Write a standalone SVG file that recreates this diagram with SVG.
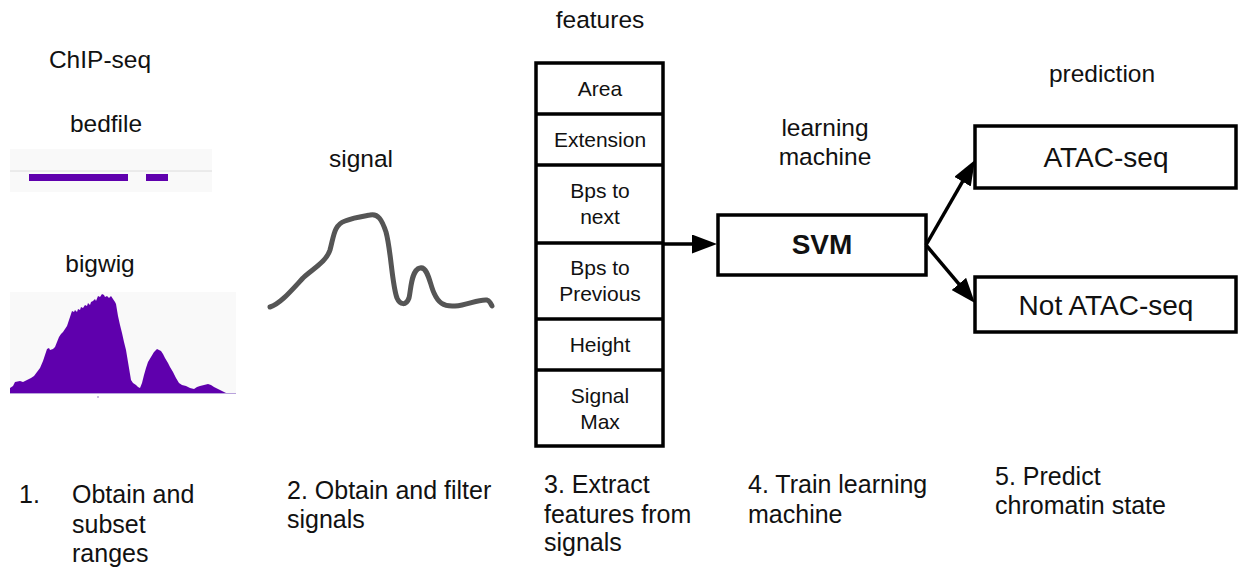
<svg xmlns="http://www.w3.org/2000/svg" width="1238" height="568" viewBox="0 0 1238 568">
  <style>
    text { font-family: "Liberation Sans", Arial, sans-serif; fill: #111; }
    .lbl { font-size: 24.5px; text-anchor: middle; }
    .step { font-size: 25px; }
    .cell { font-size: 21px; text-anchor: middle; }
    .box { fill: #fff; stroke: #000; stroke-width: 3.5; }
    .edge { fill: none; stroke: #000; stroke-width: 3.5; }
    .track { fill: #f9f9f9; }
    .purple { fill: #5f00ad; }
  </style>
  <defs>
    <marker id="head" viewBox="0 0 25 19" refX="15" refY="9.5" markerWidth="25" markerHeight="19" markerUnits="userSpaceOnUse" orient="auto">
      <path d="M0,0 L25,9.5 L0,19 Z" fill="#000"/>
    </marker>
  </defs>
  <rect width="1238" height="568" fill="#fff"/>

  <!-- 1. ChIP-seq input tracks -->
  <g id="chipseq">
    <text class="lbl" x="100" y="68">ChIP-seq</text>
    <text class="lbl" x="106" y="132">bedfile</text>
    <rect class="track" x="10" y="149" width="202" height="43"/>
    <line x1="10" y1="171" x2="212" y2="171" stroke="#dcdcdc" stroke-width="1"/>
    <rect class="purple" x="29" y="174" width="99" height="7"/>
    <rect class="purple" x="146" y="174" width="22" height="7"/>
    <text class="lbl" x="100" y="272">bigwig</text>
    <rect class="track" x="10" y="292" width="226" height="101"/>
    <path class="purple" d="M10,393 L10,388 L13,386 L15,382 L20,381 L23,382 L27,380 L31,378 L34,376 L37,372 L40,368 L43,361 L45,355 L47,349 L49,348 L50,350 L53,349 L55,347 L57,342 L59,337 L61,334 L63,332 L65,329 L67,326 L69,320 L71,314 L72,311 L74,312 L75,310 L77,312 L78,309 L80,310 L81,307 L83,308 L85,305 L87,306 L88,303 L90,305 L91,302 L93,301 L95,299 L96,301 L98,296 L100,297 L102,294 L104,295 L105,297 L107,296 L109,298 L111,296 L113,299 L115,302 L116,304 L117,310 L118,316 L120,325 L122,333 L124,342 L126,350 L128,362 L130,374 L131,380 L133,383 L136,385 L138,387 L140,388 L142,383 L144,375 L146,368 L148,362 L151,357 L154,352 L157,349 L159,350 L161,351 L163,354 L165,358 L168,363 L170,367 L173,372 L176,378 L179,383 L182,385 L186,386 L190,388 L194,389 L197,387 L200,386 L204,385 L208,384 L211,385 L214,387 L218,389 L222,391 L226,393 Z"/>
    <line x1="10" y1="393.5" x2="236" y2="393.5" stroke="#b9a3dc" stroke-width="1"/>
    <rect x="97" y="396" width="2" height="2" fill="#c8bde0"/>
  </g>

  <!-- 2. signal sketch -->
  <g id="signal">
    <text class="lbl" x="361" y="167">signal</text>
    <path d="M270,307 C280,304 290,292 303,278 C314,268 326,262 330,250 C334,235 334,225 345,221 C355,217 365,216 370,215 C378,213 382,220 386,232 C391,250 392,285 397,298 C400,305 406,306 409,298 C411,290 411,270 420,268 C428,266 430,285 434,293 C438,302 443,307 455,306 C468,305 478,299 487,300 C490,301 491,304 492,306" fill="none" stroke="#555" stroke-width="5" stroke-linecap="round" stroke-linejoin="round"/>
  </g>

  <!-- 3. feature table -->
  <g id="features">
    <text class="lbl" x="600" y="28">features</text>
    <rect class="box" x="536" y="63" width="127" height="383"/>
    <line class="edge" x1="536" y1="114" x2="663" y2="114"/>
    <line class="edge" x1="536" y1="165" x2="663" y2="165"/>
    <line class="edge" x1="536" y1="243" x2="663" y2="243"/>
    <line class="edge" x1="536" y1="319" x2="663" y2="319"/>
    <line class="edge" x1="536" y1="370" x2="663" y2="370"/>
    <text class="cell" x="600" y="96">Area</text>
    <text class="cell" x="600" y="147">Extension</text>
    <text class="cell" x="600" y="198">Bps to</text>
    <text class="cell" x="600" y="224">next</text>
    <text class="cell" x="600" y="275">Bps to</text>
    <text class="cell" x="600" y="301">Previous</text>
    <text class="cell" x="600" y="352">Height</text>
    <text class="cell" x="600" y="403">Signal</text>
    <text class="cell" x="600" y="429">Max</text>
  </g>

  <!-- 4. learning machine -->
  <g id="svm">
    <text class="lbl" x="825" y="136">learning</text>
    <text class="lbl" x="825" y="165">machine</text>
    <rect class="box" x="718" y="215" width="208" height="60"/>
    <text x="822" y="254" font-size="28" font-weight="bold" text-anchor="middle">SVM</text>
  </g>

  <!-- 5. prediction outcomes -->
  <g id="prediction">
    <text class="lbl" x="1102" y="82">prediction</text>
  </g>
  <g id="atac">
    <rect class="box" x="975" y="126" width="261" height="62"/>
    <text x="1106" y="167" font-size="28" text-anchor="middle">ATAC-seq</text>
  </g>
  <g id="not-atac">
    <rect class="box" x="975" y="277" width="261" height="55"/>
    <text x="1106" y="315" font-size="28" text-anchor="middle">Not ATAC-seq</text>
  </g>

  <!-- connectors -->
  <g id="connectors">
    <line class="edge" x1="663" y1="244" x2="707" y2="244" marker-end="url(#head)"/>
    <line class="edge" x1="926" y1="245" x2="970" y2="168.7" marker-end="url(#head)"/>
    <line class="edge" x1="926" y1="245" x2="968.5" y2="295.4" marker-end="url(#head)"/>
  </g>

  <!-- step captions -->
  <g id="steps">
    <text class="step" x="19" y="503">1.</text>
    <text class="step" x="72" y="503">Obtain and</text>
    <text class="step" x="72" y="533">subset</text>
    <text class="step" x="72" y="562">ranges</text>
    <text class="step" x="287" y="499">2. Obtain and filter</text>
    <text class="step" x="287" y="528">signals</text>
    <text class="step" x="544" y="493">3. Extract</text>
    <text class="step" x="544" y="523">features from</text>
    <text class="step" x="544" y="551">signals</text>
    <text class="step" x="748" y="493">4. Train learning</text>
    <text class="step" x="748" y="523">machine</text>
    <text class="step" x="995" y="485">5. Predict</text>
    <text class="step" x="995" y="514">chromatin state</text>
  </g>
</svg>
